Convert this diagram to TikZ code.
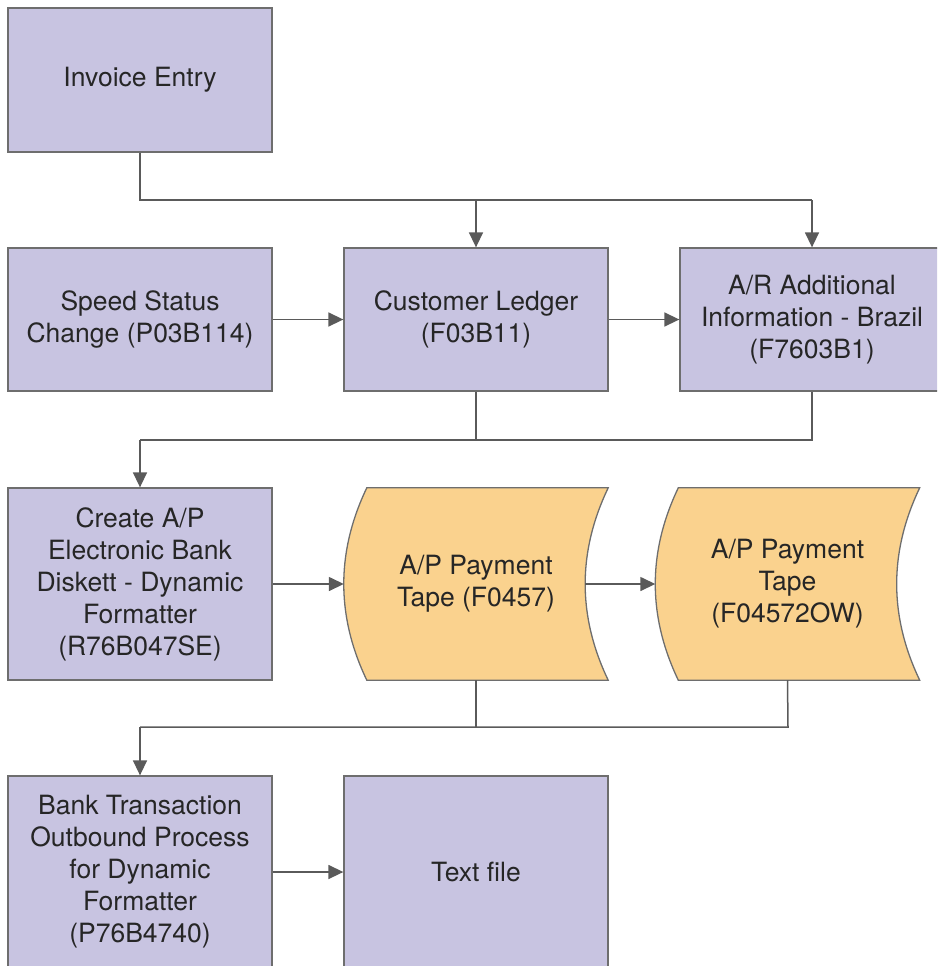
\documentclass[tikz,border=0pt]{standalone}
\usepackage{fontspec}
\setmainfont{TeX Gyre Heros}
\usetikzlibrary{arrows.meta}
\definecolor{boxfill}{HTML}{C8C4E1}
\definecolor{tapefill}{HTML}{FAD28E}
\definecolor{edge}{HTML}{6E6E6E}
\definecolor{conn}{HTML}{5A5A5A}
\tikzset{
  pbox/.style={draw=edge, line width=1.3pt, fill=boxfill, minimum width=264pt, align=center, inner sep=0pt, font=\fontsize{26.5}{32}\selectfont, text=black!85},
  tapebox/.style={minimum width=264pt, minimum height=192pt, align=center, inner sep=0pt, font=\fontsize{26.5}{32}\selectfont, text=black!85},
  tapeshape/.style={draw=edge, line width=1.3pt, fill=tapefill},
  conline/.style={draw=conn, line width=1.5pt},
  arr/.style={conline, -{Triangle[length=15pt,width=14pt]}}
}
\begin{document}
\begin{tikzpicture}[x=1pt,y=-1pt]
\useasboundingbox (0,0) rectangle (937,966);
\clip (0,0) rectangle (937,966);
% boxes
\node[pbox, minimum height=144pt] (inv) at (140,80) {Invoice Entry};
\node[pbox, minimum height=143pt] (spd) at (140,319.5) {Speed Status\\Change (P03B114)};
\node[pbox, minimum height=143pt] (cus) at (476,319.5) {Customer Ledger\\(F03B11)};
\node[pbox, minimum height=143pt] (ar) at (812,319.5) {A/R Additional\\Information - Brazil\\(F7603B1)};
\node[pbox, minimum height=192pt] (cre) at (140,584) {Create A/P\\Electronic Bank\\Diskett - Dynamic\\Formatter\\(R76B047SE)};
% tapes
\node[tapebox] (t1) at (476,584) {};
\node[tapebox] (t2) at (787.5,584) {};
\foreach \t in {t1,t2}{
  \path[tapeshape]
    ([xshift=23pt]\t.north west)
    -- (\t.north east)
    .. controls ([xshift=-30.7pt,yshift=-64pt]\t.north east) and ([xshift=-30.7pt,yshift=64pt]\t.south east) .. (\t.south east)
    -- ([xshift=23pt]\t.south west)
    .. controls ([xshift=-7.7pt,yshift=64pt]\t.south west) and ([xshift=-7.7pt,yshift=-64pt]\t.north west) .. cycle;
}
\node[tapebox] at (t1) {A/P Payment\\Tape (F0457)};
\node[tapebox] at (t2) {A/P Payment\\Tape\\(F04572OW)};
\node[pbox, minimum height=192pt] (bnk) at (140,872) {Bank Transaction\\Outbound Process\\for Dynamic\\Formatter\\(P76B4740)};
\node[pbox, minimum height=192pt] (txt) at (476,872) {Text file};
% helper coordinates
\coordinate (j1) at (140,200);
\coordinate (j2) at (476,200);
\coordinate (j3) at (812,200);
\coordinate (k1) at (476,440);
\coordinate (k2) at (812,440);
\coordinate (k3) at (140,440);
\coordinate (m1) at (476,727);
\coordinate (m2) at (788,727);
\coordinate (m3) at (140,727);
\coordinate (t1r) at ([xshift=-23pt]t1.east);
% connectors
\draw[conline] (inv.south) -- (j1) -- (j3);
\draw[arr] (j2) -- (cus.north);
\draw[arr] (j3) -- (ar.north);
\draw[arr] (spd.east) -- (cus.west);
\draw[arr] (cus.east) -- (ar.west);
\draw[conline] (cus.south) -- (k1);
\draw[conline] (ar.south) -- (k2) -- (k3);
\draw[arr] (k3) -- (cre.north);
\draw[arr] (cre.east) -- (t1.west);
\draw[arr] (t1r) -- (t2.west);
\draw[conline] (t1.south) -- (m1);
\draw[conline] (t2.south) -- (m2) -- (m3);
\draw[arr] (m3) -- (bnk.north);
\draw[arr] (bnk.east) -- (txt.west);
\end{tikzpicture}
\end{document}
